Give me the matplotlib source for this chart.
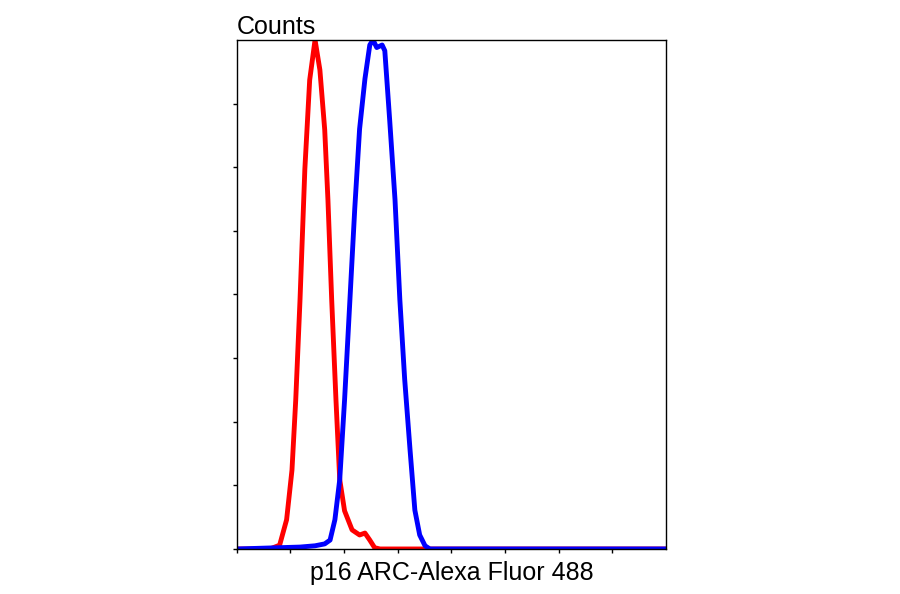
import matplotlib
matplotlib.use("Agg")
import matplotlib.pyplot as plt

red_x = [0.0, 0.62, 0.80, 0.93, 1.03, 1.10, 1.18, 1.27, 1.36, 1.46, 1.55, 1.64, 1.70, 1.77, 1.85, 1.92, 2.01, 2.15, 2.29, 2.39, 2.48, 2.57, 2.67, 8.0]
red_y = [0.0, 0.0, 0.06, 0.46, 1.24, 2.34, 3.92, 5.97, 7.37, 8.0, 7.53, 6.59, 5.49, 3.92, 2.34, 1.09, 0.60, 0.30, 0.22, 0.25, 0.14, 0.02, 0.0, 0.0]
blue_x = [0.0, 1.18, 1.46, 1.64, 1.74, 1.83, 1.92, 2.01, 2.11, 2.20, 2.29, 2.39, 2.48, 2.54, 2.61, 2.71, 2.76, 2.85, 2.95, 3.04, 3.13, 3.23, 3.32, 3.41, 3.51, 3.60, 8.0]
blue_y = [0.0, 0.03, 0.05, 0.08, 0.14, 0.46, 1.09, 2.34, 3.92, 5.35, 6.60, 7.39, 7.92, 8.0, 7.88, 7.92, 7.83, 6.75, 5.49, 3.92, 2.67, 1.56, 0.61, 0.22, 0.05, 0.0, 0.0]
x_ticks = [0, 1, 2, 3, 4, 5, 6, 7]
y_ticks = [0, 1, 2, 3, 4, 5, 6, 7]

plt.rcParams['font.family'] = ['Liberation Sans', 'DejaVu Sans']
fig = plt.figure(figsize=(9, 5.94), dpi=100)
ax = fig.add_axes([0.263, 0.0758, 0.477, 0.857])
ax.plot(red_x, red_y, color='#ff0000', lw=3.5, solid_joinstyle='round')
ax.plot(blue_x, blue_y, color='#0000ff', lw=3.5, solid_joinstyle='round')
ax.set_xlim(0, 8)
ax.set_ylim(0, 8)
ax.set_xticks(x_ticks)
ax.set_yticks(y_ticks)
ax.set_xticklabels([])
ax.set_yticklabels([])
ax.tick_params(direction='out', length=3, width=1, colors='black')
for s in ax.spines.values():
    s.set_linewidth(1)
ax.set_xlabel("p16 ARC-Alexa Fluor 488", fontsize=18, labelpad=2)
fig.text(0.263, 0.935, "Counts", fontsize=18, ha='left', va='bottom')
fig.savefig("out.png", dpi=100)
